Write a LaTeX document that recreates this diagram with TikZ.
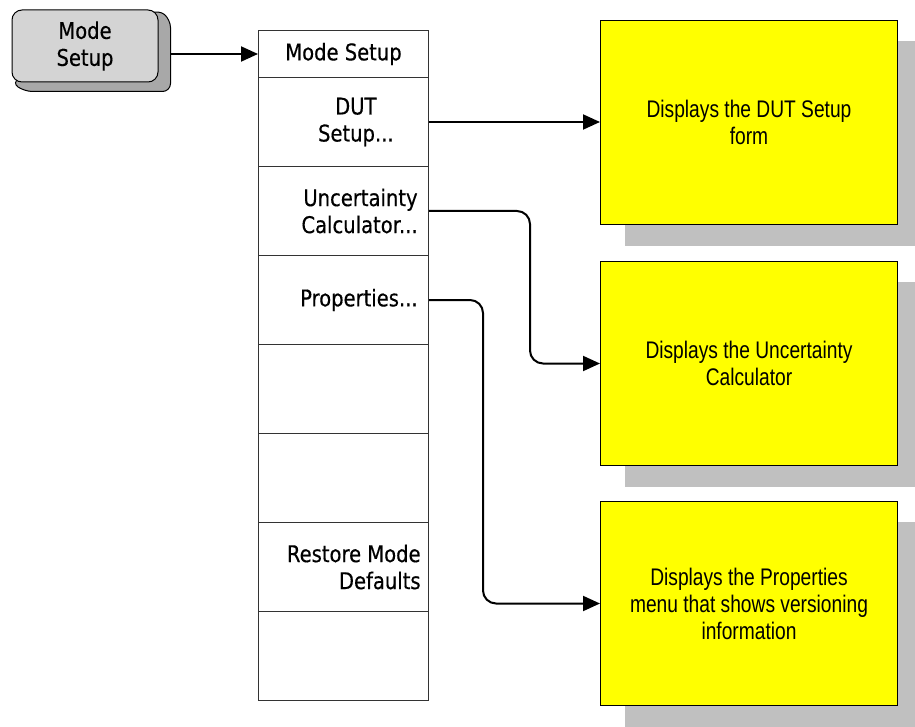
\documentclass[tikz,border=0pt]{standalone}
\usepackage{fontspec}
\newfontfamily\keyfont[FakeStretch=0.85, FakeBold=0.4]{DejaVu Sans}
\newfontfamily\descfont[FakeStretch=0.8]{Liberation Sans}
\usetikzlibrary{arrows.meta, backgrounds}

\definecolor{keygray}{HTML}{D4D4D4}
\definecolor{keyside}{HTML}{A8A8A8}
\definecolor{shadowgray}{HTML}{C0C0C0}
\definecolor{descyellow}{HTML}{FFFF00}

\begin{document}
\begin{tikzpicture}[
    x=0.5pt, y=-0.5pt,
    keybox/.style={draw, fill=keygray, rounded corners=5pt, line width=0.5pt,
        minimum width=73pt, minimum height=36pt, align=center,
        font=\keyfont\fontsize{11.5}{13.5}\selectfont},
    hdrbox/.style={draw=black!80, line width=0.5pt, anchor=north west, inner sep=0pt,
        minimum width=85pt, minimum height=23.5pt,
        font=\keyfont\fontsize{11.5}{13.5}\selectfont},
    rowbox/.style={draw=black!80, line width=0.5pt, anchor=north west, inner sep=0pt,
        minimum width=85pt, minimum height=44.5pt},
    rowtext/.style={anchor=east, inner sep=0pt,
        font=\keyfont\fontsize{11.5}{13.5}\selectfont},
    descbox/.style={draw, fill=descyellow, line width=0.5pt, anchor=north west,
        minimum width=148.5pt, minimum height=102pt, align=center,
        font=\descfont\fontsize{12}{13.5}\selectfont},
    link/.style={->, line width=1pt, rounded corners=6.5pt},
    >={Triangle[length=8.5pt, width=7.5pt]}
]
    \useasboundingbox (0,0) rectangle (915,727);

    % hard key
    \node[keybox] (key) at (85,46) {Mode\\Setup};
    \coordinate (keyback) at ([shift={(12,10)}]key.east);

    % menu column
    \node[hdrbox] (hdr) at (258,30) {Mode Setup};
    \node[rowbox] (dut)     at (258,77)  {};
    \node[rowbox] (unc)     at (258,166) {};
    \node[rowbox] (prop)    at (258,255) {};
    \node[rowbox] (blanka)  at (258,344) {};
    \node[rowbox] (blankb)  at (258,433) {};
    \node[rowbox] (restore) at (258,522) {};
    \node[rowbox] (blankc)  at (258,611) {};

    % softkey labels
    \node[rowtext, align=center] (dutlbl) at ([xshift=-17.5pt]dut.east) {DUT\\Setup...};
    \node[rowtext, align=right] (unclbl) at ([xshift=-5.5pt]unc.east) {Uncertainty\\Calculator...};
    \node[rowtext, align=right] (proplbl) at ([xshift=-5.5pt]prop.east) {Properties...};
    \node[rowtext, align=right] (restorelbl) at ([xshift=-4pt]restore.east) {Restore Mode\\Defaults};

    % description boxes
    \node[descbox] (dutdesc)  at (600,20)  {Displays the DUT Setup\\form};
    \node[descbox] (uncdesc)  at (600,261) {Displays the Uncertainty\\Calculator};
    \node[descbox] (propdesc) at (600,501) {Displays the Properties\\menu that shows versioning\\information};

    % shadows
    \begin{scope}[on background layer]
        \filldraw[fill=keyside, line width=0.5pt, rounded corners=4pt]
            (key.north east) -- ++(12,10) -- ++(0,72) -- ++(-146,0) -- (key.south west) -- cycle;
        \fill[shadowgray] ([shift={(25,21)}]dutdesc.north west) rectangle ([shift={(25,21)}]dutdesc.south east);
        \fill[shadowgray] ([shift={(25,21)}]uncdesc.north west) rectangle ([shift={(25,21)}]uncdesc.south east);
        \fill[shadowgray] ([shift={(25,21)}]propdesc.north west) rectangle ([shift={(25,21)}]propdesc.south east);
    \end{scope}

    % connectors
    \coordinate (bendu) at (530,0);
    \coordinate (bendp) at (483,0);
    \draw[link] (hdr.west -| keyback) -- (hdr.west);
    \draw[link] (dut.east) -- (dut.east -| dutdesc.west);
    \draw[link] (unc.east) -- (unc.east -| bendu) |- (uncdesc.west);
    \draw[link] (prop.east) -- (prop.east -| bendp) |- (propdesc.west);

\end{tikzpicture}
\end{document}
